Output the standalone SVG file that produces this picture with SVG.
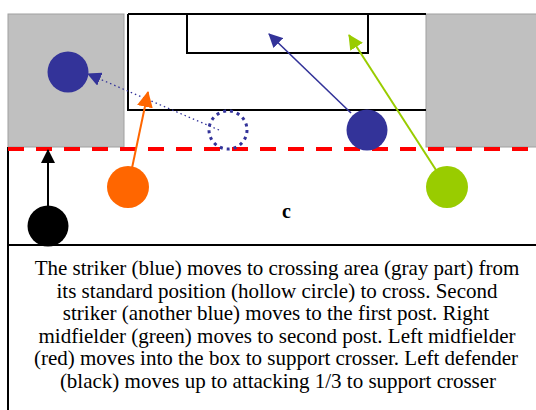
<svg xmlns="http://www.w3.org/2000/svg" width="536" height="410" viewBox="0 0 536 410">
<style>
.fl{fill:none;stroke:#000;stroke-width:2}
.gray{fill:#C0C0C0;stroke:#A0A0A0;stroke-width:1}
.txt{font-family:"Liberation Serif","Times New Roman",serif;font-size:21px;fill:#000;text-anchor:middle}
</style>
<defs>
<marker id="mBlue" markerUnits="userSpaceOnUse" markerWidth="14" markerHeight="14" refX="13" refY="7" orient="auto"><path d="M0,0 L14,7 L0,14 z" fill="#333399"/></marker>
<marker id="mOrange" markerUnits="userSpaceOnUse" markerWidth="16" markerHeight="16" refX="15" refY="8" orient="auto"><path d="M0,0 L16,8 L0,16 z" fill="#FF6600"/></marker>
<marker id="mGreen" markerUnits="userSpaceOnUse" markerWidth="15" markerHeight="15" refX="14" refY="7.5" orient="auto"><path d="M0,0 L15,7.5 L0,15 z" fill="#99CC00"/></marker>
<marker id="mBlack" markerUnits="userSpaceOnUse" markerWidth="14" markerHeight="14" refX="13" refY="7" orient="auto"><path d="M0,0 L14,7 L0,14 z" fill="#000"/></marker>
</defs>
<rect width="536" height="410" fill="#fff"/>
<g id="field">
<rect class="gray" x="8" y="14" width="116" height="133"/>
<rect class="gray" x="426" y="14" width="112" height="133"/>
<path class="fl" d="M128,14 H426 M128,14 V110 H426 M187,14 V53 H368 V14"/>
<path class="fl" d="M8,147 V410 M8,245 H536"/>
<line x1="8" y1="149" x2="536" y2="149" stroke="#FF0000" stroke-width="4" stroke-dasharray="16 12"/>
<text x="282" y="218" font-family="Liberation Serif,serif" font-size="20" font-weight="bold">c</text>
</g>
<g id="connectors">
<line x1="219" y1="130" x2="88" y2="74" stroke="#333399" stroke-width="1.3" stroke-dasharray="1.5 3" marker-end="url(#mBlue)"/>
<line x1="132" y1="168" x2="148" y2="92" stroke="#FF6600" stroke-width="2" marker-end="url(#mOrange)"/>
<line x1="48" y1="206" x2="48" y2="150" stroke="#000" stroke-width="2" marker-end="url(#mBlack)"/>
<line x1="351" y1="113" x2="269" y2="34" stroke="#333399" stroke-width="1.6" marker-end="url(#mBlue)"/>
<line x1="436" y1="170" x2="349" y2="35" stroke="#99CC00" stroke-width="2" marker-end="url(#mGreen)"/>
</g>
<g id="striker"><circle cx="68" cy="72" r="20.5" fill="#333399"/></g>
<g id="striker-origin"><circle cx="228" cy="130" r="19" fill="none" stroke="#333399" stroke-width="3" stroke-dasharray="3 4"/></g>
<g id="left-midfielder"><circle cx="128" cy="187" r="21" fill="#FF6600"/></g>
<g id="left-defender"><circle cx="48" cy="226" r="20.5" fill="#000"/></g>
<g id="second-striker"><circle cx="367" cy="130" r="20.5" fill="#333399"/></g>
<g id="right-midfielder"><circle cx="447" cy="187" r="21" fill="#99CC00"/></g>
<g id="caption">
<text class="txt" x="277" y="275">The striker (blue) moves to crossing area (gray part) from</text>
<text class="txt" x="277" y="298">its standard position (hollow circle) to cross. Second</text>
<text class="txt" x="276" y="320">striker (another blue) moves to the first post. Right</text>
<text class="txt" x="277" y="343">midfielder (green) moves to second post. Left midfielder</text>
<text class="txt" x="276" y="365">(red) moves into the box to support crosser. Left defender</text>
<text class="txt" x="278" y="388">(black) moves up to attacking 1/3 to support crosser</text>
</g>
</svg>
